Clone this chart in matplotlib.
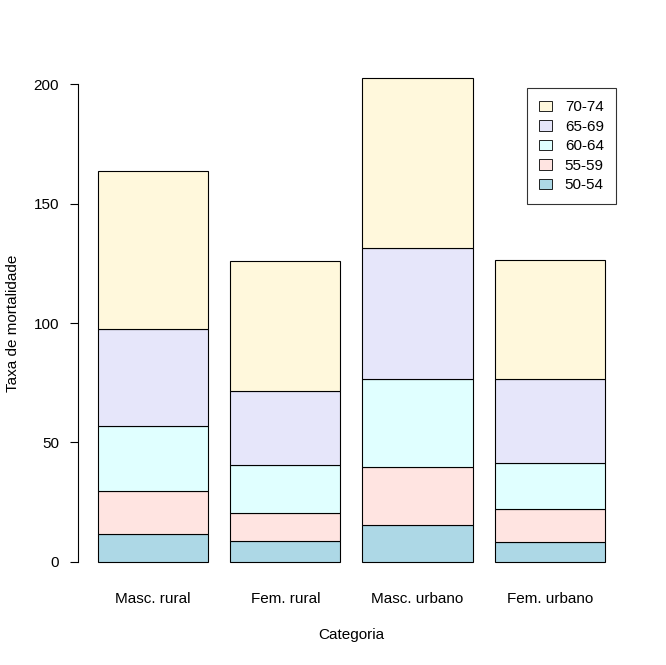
import numpy as np
import matplotlib.pyplot as plt
from matplotlib.patches import Patch

plt.rcParams['font.family'] = ['Liberation Sans', 'DejaVu Sans']

categorias = ["Masc. rural", "Fem. rural", "Masc. urbano", "Fem. urbano"]
faixas = ["50-54", "55-59", "60-64", "65-69", "70-74"]
taxas = np.array([
    [11.7, 8.7, 15.4, 8.4],
    [18.1, 11.7, 24.3, 13.6],
    [26.9, 20.3, 37.0, 19.3],
    [41.0, 30.9, 54.6, 35.1],
    [66.0, 54.3, 71.1, 50.0],
])
cores = ["lightblue", "mistyrose", "lightcyan", "lavender", "cornsilk"]

fig = plt.figure(figsize=(6.66, 6.65), dpi=100)
ax = fig.add_axes([77.7 / 666, 1 - 581.3 / 665, (625 - 77.7) / 666, (581.3 - 59.0) / 665])

# barplot estilo R: largura 1, espaco 0.2
x = 0.2 + np.arange(len(categorias)) * 1.2 + 0.5
base = np.zeros(len(categorias))
for i in range(len(faixas)):
    ax.bar(x, taxas[i], width=1.0, bottom=base, color=cores[i],
           edgecolor="black", linewidth=0.8)
    base += taxas[i]

topo = taxas.sum(axis=0).max()
ax.set_xlim(0.2 - 0.04 * 4.6, 4.8 + 0.04 * 4.6)
ax.set_ylim(-0.04 * topo, topo * 1.04)

for s in ["top", "right", "bottom"]:
    ax.spines[s].set_visible(False)
ax.spines["left"].set_bounds(0, 200)
ax.spines["left"].set_linewidth(0.8)
ax.set_yticks([0, 50, 100, 150, 200])
ax.tick_params(axis="y", length=5.5, width=0.8, pad=8, labelsize=11)
ax.set_xticks(x)
ax.set_xticklabels(categorias)
ax.tick_params(axis="x", length=0, pad=8, labelsize=11)

fig.text(351 / 666, 1 - 635 / 665, "Categoria", ha="center", va="center", fontsize=11)
fig.text(13 / 666, 1 - 323 / 665, "Taxa de mortalidade", ha="center", va="center",
         rotation=90, fontsize=11)

handles = [Patch(facecolor=cores[i], edgecolor="black", linewidth=0.6, label=faixas[i])
           for i in range(len(faixas))][::-1]
leg = fig.legend(handles=handles, loc="upper right",
                 bbox_to_anchor=(616 / 666, 1 - 88 / 665), fancybox=False,
                 edgecolor="black", fontsize=11, handlelength=0.85, handleheight=0.7,
                 labelspacing=0.36, borderpad=0.8, handletextpad=0.85, borderaxespad=0)
leg.get_frame().set_linewidth(0.8)

fig.savefig("out.png", dpi=100)
